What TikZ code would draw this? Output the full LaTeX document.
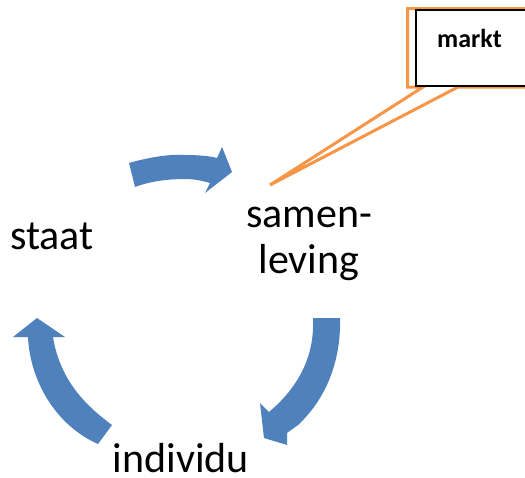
\documentclass[tikz,border=0pt]{standalone}
\usepackage{fontspec}
\setmainfont{Carlito}
\definecolor{arrowblue}{HTML}{4F81BD}
\definecolor{calloutorange}{HTML}{F79646}
\begin{document}
\begin{tikzpicture}[x=1pt,y=-1pt,
  cyclearrow/.style={fill=arrowblue, draw=none},
  bigtext/.style={inner sep=0pt, font=\fontsize{42}{46}\selectfont},
  callout/.style={draw=calloutorange, line width=3pt, fill=white, line join=miter},
  marktbox/.style={draw=black, line width=1.5pt, fill=white}]
\useasboundingbox (0,0) rectangle (525,477);
\clip (0,0) rectangle (525,477);
\fill[white] (0,0) rectangle (525,477);

% texts
\node[bigtext, anchor=base west] (staat) at (10,249) {staat};
\node[bigtext, anchor=base, align=center] (samen) at (309,273) {samen-\\leving};
\node[bigtext, anchor=base, text depth=0pt] (individu) at (181,472) {individu};

% top arrow
\path[cyclearrow] (129,163) .. controls (150,157) and (170,154) .. (185,155)
  .. controls (198,155) and (210,156) .. (217,158) -- (222,147) -- (232,172) -- (205,193)
  -- (210,183) .. controls (200,180) and (192,179) .. (185,179)
  .. controls (165,179) and (148,182) .. (135,187) -- cycle;

% right arrow
\path[cyclearrow] (313,318) -- (340,318) .. controls (341,355) and (330,395) .. (298,425)
  -- (287,433) -- (287,445) -- (264,438) -- (260,403) -- (269,412)
  .. controls (295,390) and (315,360) .. (313,318) -- cycle;

% left arrow
\path[cyclearrow] (112,425) .. controls (85,405) and (60,380) .. (53,337) -- (65,337)
  -- (37,318) -- (13,337) -- (28,337) .. controls (30,380) and (55,425) .. (98,444) -- cycle;

% callout with markt
\coordinate (tip) at (270,185);
\draw[callout] (540,8.5) -- (407.5,8.5) -- (407.5,87) -- (423,87) -- (tip) -- (458,87) -- (540,87);
\draw[marktbox] (416,10) rectangle (540,86);
\node[inner sep=0pt, anchor=base west, font=\bfseries\fontsize{26}{30}\selectfont] (markt) at (437,47) {markt};
\end{tikzpicture}
\end{document}
